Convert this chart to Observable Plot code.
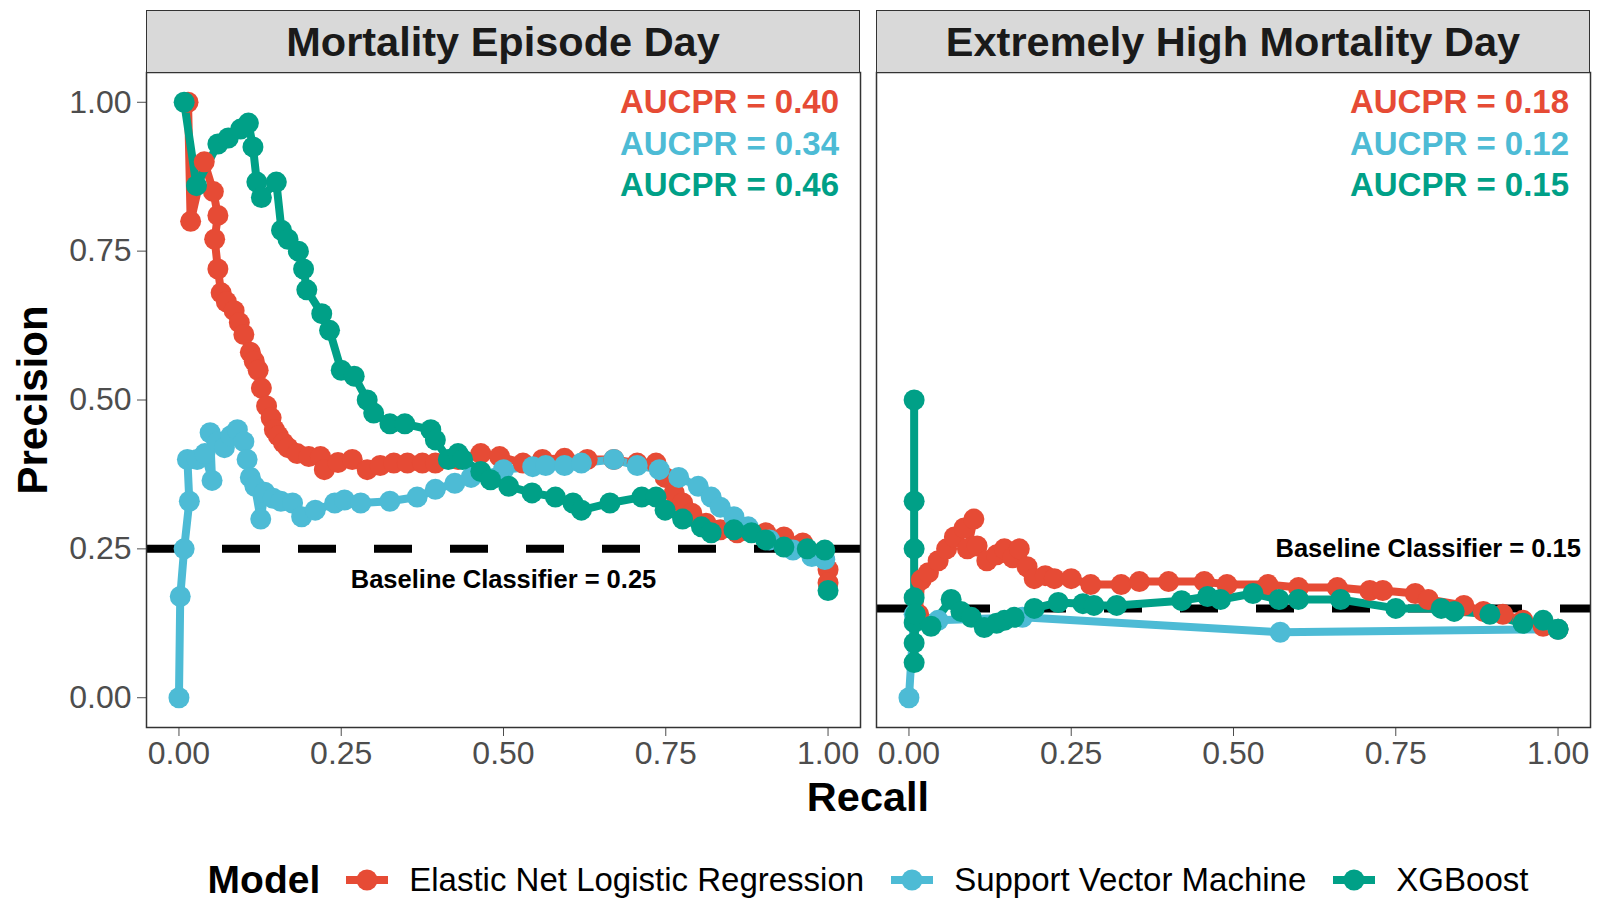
<!DOCTYPE html>
<html><head><meta charset="utf-8">
<script src="https://cdn.jsdelivr.net/npm/d3@7"></script>
<script src="https://cdn.jsdelivr.net/npm/@observablehq/plot@0.6"></script>
<style>
body{margin:0;background:#fff;font-family:"Liberation Sans",Arial,Helvetica,sans-serif;}
#wrap{position:relative;width:1601px;height:900px;overflow:hidden;}
#chart{position:absolute;left:0;top:0;}
.strip{position:absolute;box-sizing:border-box;background:#d9d9d9;border:1.5px solid #333;display:flex;align-items:center;justify-content:center;font-weight:bold;font-size:41.5px;color:#1a1a1a;}
.ytitle{position:absolute;left:33px;top:400px;transform:translate(-50%,-50%) rotate(-90deg);font-weight:bold;font-size:42px;color:#000;white-space:nowrap;}
.xtitle{position:absolute;left:868px;top:797px;transform:translate(-50%,-50%);font-weight:bold;font-size:41.5px;color:#000;white-space:nowrap;}
.legend{position:absolute;left:0;width:1736px;top:880px;transform:translateY(-50%);display:flex;align-items:center;justify-content:center;font-size:33px;color:#000;}
.legend .ttl{font-weight:bold;font-size:39px;margin-right:24px;}
.legend .lab{margin-left:19px;margin-right:25px;}
.legend svg{display:block;}
</style>
</head><body>
<div id="wrap"></div>
<script>
// ---------- data ----------
const panels = ["Mortality Episode Day", "Extremely High Mortality Day"];
const models = ["Elastic Net Logistic Regression", "Support Vector Machine", "XGBoost"];
const modelColors = ["#E64B35", "#4DBBD5", "#00A087"];
const tickValues = [0, 0.25, 0.5, 0.75, 1];
const baselineValues = [0.25, 0.15];
const aucprEpisode = [0.40, 0.34, 0.46];
const aucprExtreme = [0.18, 0.12, 0.15];

// [recall, precision]
const enetEpisode = [[0.014,1.00],[0.018,0.80],[0.039,0.90],[0.053,0.85],[0.060,0.81],[0.055,0.77],[0.060,0.72],[0.065,0.68],[0.073,0.665],[0.085,0.65],[0.093,0.63],[0.100,0.61],[0.110,0.58],[0.116,0.565],[0.122,0.55],[0.127,0.52],[0.135,0.49],[0.142,0.47],[0.147,0.45],[0.153,0.44],[0.161,0.428],[0.168,0.42],[0.182,0.41],[0.200,0.405],[0.218,0.405],[0.224,0.383],[0.245,0.395],[0.267,0.40],[0.290,0.383],[0.310,0.39],[0.331,0.394],[0.352,0.394],[0.375,0.394],[0.395,0.394],[0.430,0.40],[0.465,0.41],[0.494,0.405],[0.530,0.394],[0.560,0.40],[0.594,0.402],[0.629,0.40],[0.670,0.40],[0.706,0.394],[0.735,0.394],[0.749,0.37],[0.763,0.344],[0.776,0.327],[0.790,0.31],[0.812,0.293],[0.834,0.282],[0.860,0.277],[0.904,0.277],[0.932,0.27],[0.961,0.26],[0.990,0.243],[1.000,0.215],[1.000,0.193]];
const svmEpisode = [[0.000,0.00],[0.002,0.17],[0.008,0.25],[0.016,0.33],[0.013,0.40],[0.028,0.40],[0.040,0.41],[0.051,0.365],[0.048,0.445],[0.060,0.43],[0.070,0.42],[0.080,0.44],[0.090,0.45],[0.100,0.43],[0.105,0.40],[0.110,0.37],[0.117,0.355],[0.126,0.30],[0.132,0.345],[0.145,0.335],[0.157,0.33],[0.175,0.327],[0.189,0.304],[0.210,0.315],[0.240,0.327],[0.255,0.332],[0.280,0.327],[0.325,0.33],[0.367,0.337],[0.395,0.35],[0.425,0.36],[0.450,0.37],[0.500,0.383],[0.545,0.388],[0.565,0.39],[0.594,0.39],[0.620,0.394],[0.670,0.40],[0.706,0.39],[0.740,0.383],[0.770,0.37],[0.800,0.355],[0.820,0.337],[0.834,0.32],[0.855,0.304],[0.877,0.287],[0.910,0.265],[0.946,0.248],[0.975,0.237],[0.995,0.232]];
const xgbEpisode = [[0.008,1.00],[0.027,0.86],[0.060,0.93],[0.076,0.94],[0.095,0.955],[0.107,0.965],[0.114,0.925],[0.120,0.866],[0.127,0.84],[0.150,0.866],[0.158,0.785],[0.168,0.77],[0.184,0.75],[0.192,0.72],[0.197,0.685],[0.220,0.645],[0.232,0.617],[0.250,0.55],[0.270,0.54],[0.290,0.50],[0.300,0.478],[0.325,0.46],[0.348,0.46],[0.388,0.45],[0.395,0.433],[0.415,0.40],[0.430,0.41],[0.437,0.40],[0.465,0.38],[0.480,0.366],[0.508,0.355],[0.544,0.344],[0.580,0.337],[0.607,0.327],[0.620,0.315],[0.664,0.327],[0.713,0.337],[0.735,0.337],[0.749,0.315],[0.776,0.30],[0.805,0.287],[0.820,0.277],[0.855,0.282],[0.882,0.277],[0.904,0.265],[0.932,0.253],[0.968,0.25],[0.995,0.248],[1.000,0.18]];

const enetExtreme = [[0.015,0.14],[0.019,0.198],[0.030,0.21],[0.045,0.23],[0.058,0.25],[0.070,0.27],[0.085,0.285],[0.100,0.30],[0.090,0.25],[0.105,0.255],[0.120,0.23],[0.135,0.24],[0.147,0.25],[0.160,0.235],[0.170,0.25],[0.182,0.22],[0.193,0.20],[0.210,0.205],[0.224,0.20],[0.250,0.20],[0.280,0.19],[0.327,0.19],[0.355,0.195],[0.400,0.195],[0.455,0.195],[0.490,0.19],[0.553,0.19],[0.600,0.185],[0.660,0.185],[0.710,0.18],[0.730,0.18],[0.780,0.175],[0.800,0.165],[0.855,0.155],[0.885,0.145],[0.915,0.14],[0.946,0.13],[0.977,0.12],[1.000,0.115]];
const svmExtreme = [[0.000,0.00],[0.008,0.14],[0.045,0.13],[0.175,0.135],[0.572,0.11],[1.000,0.115]];
const xgbExtreme = [[0.008,0.50],[0.008,0.33],[0.008,0.25],[0.008,0.168],[0.008,0.126],[0.008,0.092],[0.008,0.059],[0.010,0.14],[0.034,0.12],[0.065,0.165],[0.080,0.145],[0.096,0.135],[0.116,0.118],[0.135,0.125],[0.147,0.13],[0.162,0.135],[0.193,0.15],[0.230,0.16],[0.268,0.158],[0.285,0.155],[0.320,0.155],[0.420,0.163],[0.460,0.17],[0.480,0.165],[0.530,0.175],[0.570,0.165],[0.600,0.165],[0.665,0.165],[0.750,0.15],[0.820,0.15],[0.840,0.145],[0.895,0.14],[0.946,0.125],[0.977,0.13],[1.000,0.115]];

// ---------- build tables ----------
const curves = [
  [panels[0], models[0], enetEpisode], [panels[0], models[1], svmEpisode], [panels[0], models[2], xgbEpisode],
  [panels[1], models[0], enetExtreme], [panels[1], models[1], svmExtreme], [panels[1], models[2], xgbExtreme]
];
const rows = [];
for (const [panel, model, pts] of curves) for (const [r, p] of pts) rows.push({panel, model, recall: r, precision: p});

const baselineRows = panels.map((panel, i) => ({panel, value: baselineValues[i], label: "Baseline Classifier = " + baselineValues[i].toFixed(2)}));
const aucRows = [];
[aucprEpisode, aucprExtreme].forEach((vals, i) => vals.forEach((v, j) => aucRows.push({panel: panels[i], model: models[j], rank: j, label: "AUCPR = " + v.toFixed(2)})));

// ---------- annotation placement (data space) ----------
const aucX = 1.017, aucY = [1.0, 0.93, 0.86];
const baseLabelX = [0.5, 0.8], baseLabelY = [0.198, 0.25];

const FONT = '"Liberation Sans", Arial, Helvetica, sans-serif';
const fmt = d3.format(".2f");

const chart = Plot.plot({
  width: 1601, height: 787,
  marginLeft: 146, marginRight: 10, marginTop: 72, marginBottom: 60,
  style: {fontFamily: FONT, fontSize: "32px", color: "#4d4d4d", background: "transparent"},
  fx: {domain: panels, padding: 0.0219, axis: null, label: null},
  x: {domain: [-0.05, 1.05], ticks: tickValues, tickFormat: fmt, tickSize: 9, tickPadding: 5, label: null},
  y: {domain: [-0.05, 1.05], ticks: tickValues, tickFormat: fmt, tickSize: 9, tickPadding: 6, label: null},
  color: {domain: models, range: modelColors},
  marks: [
    Plot.ruleY(baselineRows, {fx: "panel", y: "value", stroke: "#000", strokeWidth: 8, strokeDasharray: "38,38"}),
    Plot.line(rows, {fx: "panel", x: "recall", y: "precision", z: "model", stroke: "model", strokeWidth: 8, curve: "linear"}),
    Plot.dot(rows, {fx: "panel", x: "recall", y: "precision", fill: "model", r: 10.5}),
    Plot.text(aucRows, {fx: "panel", x: () => aucX, y: d => aucY[d.rank], text: "label", fill: "model", textAnchor: "end", fontWeight: "bold", fontSize: 33}),
    Plot.text(baselineRows, {fx: "panel", x: (d, i) => baseLabelX[i], y: (d, i) => baseLabelY[i], text: "label", fill: "#000", fontWeight: "bold", fontSize: 25.5}),
    Plot.frame({stroke: "#333", strokeWidth: 1.5})
  ]
});
chart.id = "chart";
const wrap = document.getElementById("wrap");
wrap.appendChild(chart);

// facet strips, positioned from the fx scale
const fx = chart.scale("fx");
for (const p of panels) {
  const d = document.createElement("div");
  d.className = "strip";
  d.style.left = fx.apply(p) + "px";
  d.style.width = fx.bandwidth + "px";
  d.style.top = "10px";
  d.style.height = "63px";
  d.textContent = p;
  wrap.appendChild(d);
}

const yt = document.createElement("div"); yt.className = "ytitle"; yt.textContent = "Precision"; wrap.appendChild(yt);
const xt = document.createElement("div"); xt.className = "xtitle"; xt.textContent = "Recall"; wrap.appendChild(xt);

// legend
const lg = document.createElement("div"); lg.className = "legend";
const ttl = document.createElement("span"); ttl.className = "ttl"; ttl.textContent = "Model"; lg.appendChild(ttl);
models.forEach((m, i) => {
  const ns = "http://www.w3.org/2000/svg";
  const s = document.createElementNS(ns, "svg");
  s.setAttribute("width", 46); s.setAttribute("height", 34);
  const ln = document.createElementNS(ns, "line");
  ln.setAttribute("x1", 2); ln.setAttribute("x2", 44); ln.setAttribute("y1", 17); ln.setAttribute("y2", 17);
  ln.setAttribute("stroke", modelColors[i]); ln.setAttribute("stroke-width", 8);
  const c = document.createElementNS(ns, "circle");
  c.setAttribute("cx", 23); c.setAttribute("cy", 17); c.setAttribute("r", 10.5); c.setAttribute("fill", modelColors[i]);
  s.appendChild(ln); s.appendChild(c);
  lg.appendChild(s);
  const lab = document.createElement("span"); lab.className = "lab"; lab.textContent = m;
  if (i === models.length - 1) lab.style.marginRight = "0";
  lg.appendChild(lab);
});
wrap.appendChild(lg);
</script>
</body></html>
